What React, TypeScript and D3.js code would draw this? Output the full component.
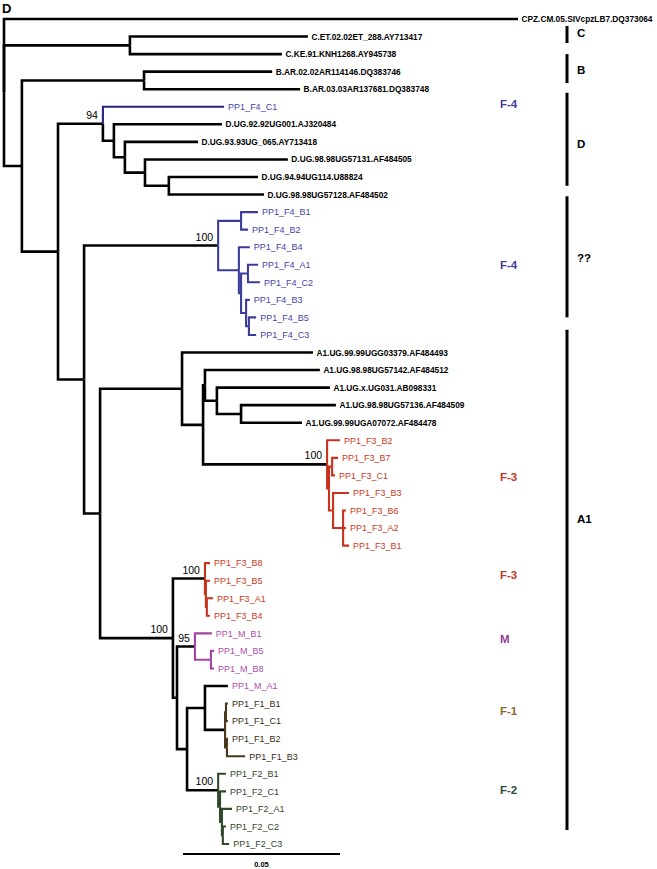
import React from 'react';
import * as d3 from 'd3';

const W = 657;
const H = 869;

// [id, parent, depth (subst./site from root), edge colour group]
const treeRows: [string, string, number, string][] = [
  ['root', '', 0, 'k'],
  ['CPZ.CM.05.SIVcpzLB7.DQ373064', 'root', 0.1637, 'k'],
  ['nC', 'root', 0.0401, 'k'],
  ['C.ET.02.02ET_288.AY713417', 'nC', 0.0968, 'k'],
  ['C.KE.91.KNH1268.AY945738', 'nC', 0.0885, 'k'],
  ['n1', 'root', 0.0057, 'k'],
  ['nB', 'n1', 0.0446, 'k'],
  ['B.AR.02.02AR114146.DQ383746', 'nB', 0.0854, 'k'],
  ['B.AR.03.03AR137681.DQ383748', 'nB', 0.0943, 'k'],
  ['n2', 'n1', 0.0172, 'k'],
  ['nD', 'n2', 0.0315, 'k'],
  ['PP1_F4_C1', 'nD', 0.0701, 'nv'],
  ['nD1', 'nD', 0.035, 'k'],
  ['D.UG.92.92UG001.AJ320484', 'nD1', 0.0694, 'k'],
  ['nD2', 'nD1', 0.0385, 'k'],
  ['D.UG.93.93UG_065.AY713418', 'nD2', 0.0618, 'k'],
  ['nD3', 'nD2', 0.0449, 'k'],
  ['D.UG.98.98UG57131.AF484505', 'nD3', 0.0904, 'k'],
  ['nD4', 'nD3', 0.0525, 'k'],
  ['D.UG.94.94UG114.U88824', 'nD4', 0.0809, 'k'],
  ['D.UG.98.98UG57128.AF484502', 'nD4', 0.0828, 'k'],
  ['n3', 'n2', 0.0255, 'k'],
  ['nF4', 'n3', 0.0682, 'k'],
  ['nF4a', 'nF4', 0.0755, 'b'],
  ['PP1_F4_B1', 'nF4a', 0.0809, 'b'],
  ['PP1_F4_B2', 'nF4a', 0.0777, 'b'],
  ['nF4b', 'nF4', 0.0748, 'b'],
  ['PP1_F4_B4', 'nF4b', 0.0783, 'b'],
  ['nF4c', 'nF4b', 0.0755, 'b'],
  ['nF4d', 'nF4c', 0.0777, 'b'],
  ['PP1_F4_A1', 'nF4d', 0.0809, 'b'],
  ['PP1_F4_C2', 'nF4d', 0.0815, 'b'],
  ['nF4e', 'nF4c', 0.0771, 'b'],
  ['PP1_F4_B3', 'nF4e', 0.0783, 'b'],
  ['nF4f', 'nF4e', 0.078, 'b'],
  ['PP1_F4_B5', 'nF4f', 0.0803, 'b'],
  ['PP1_F4_C3', 'nF4f', 0.0803, 'b'],
  ['nA', 'n3', 0.0306, 'k'],
  ['nA1', 'nA', 0.0567, 'k'],
  ['A1.UG.99.99UGG03379.AF484493', 'nA1', 0.0984, 'k'],
  ['nP', 'nA1', 0.0634, 'k'],
  ['nQ', 'nP', 0.064, 'k'],
  ['A1.UG.98.98UG57142.AF484512', 'nQ', 0.1006, 'k'],
  ['nR', 'nQ', 0.0678, 'k'],
  ['A1.UG.x.UG031.AB098331', 'nR', 0.1038, 'k'],
  ['nS', 'nR', 0.0755, 'k'],
  ['A1.UG.98.98UG57136.AF484509', 'nS', 0.1057, 'k'],
  ['A1.UG.99.99UGA07072.AF484478', 'nS', 0.0949, 'k'],
  ['nF3', 'nP', 0.1029, 'k'],
  ['PP1_F3_B2', 'nF3', 0.107, 'r'],
  ['nF3a', 'nF3', 0.1035, 'r'],
  ['nF3b', 'nF3a', 0.1045, 'r'],
  ['PP1_F3_B7', 'nF3b', 0.1064, 'r'],
  ['PP1_F3_C1', 'nF3b', 0.1054, 'r'],
  ['nF3c', 'nF3a', 0.1048, 'r'],
  ['PP1_F3_B3', 'nF3c', 0.1099, 'r'],
  ['nF3d', 'nF3c', 0.108, 'r'],
  ['PP1_F3_B6', 'nF3d', 0.1089, 'r'],
  ['PP1_F3_A2', 'nF3d', 0.1089, 'r'],
  ['PP1_F3_B1', 'nF3d', 0.1099, 'r'],
  ['nL', 'nA', 0.0538, 'k'],
  ['nG', 'nL', 0.064, 'k'],
  ['PP1_F3_B8', 'nG', 0.0656, 'r'],
  ['nGa', 'nG', 0.0643, 'r'],
  ['PP1_F3_B5', 'nGa', 0.0656, 'r'],
  ['nGb', 'nGa', 0.0646, 'r'],
  ['PP1_F3_A1', 'nGb', 0.0666, 'r'],
  ['PP1_F3_B4', 'nGb', 0.0656, 'r'],
  ['nL2', 'nL', 0.0551, 'k'],
  ['nM', 'nL2', 0.0608, 'k'],
  ['PP1_M_B1', 'nM', 0.0662, 'm'],
  ['nMa', 'nM', 0.0659, 'm'],
  ['PP1_M_B5', 'nMa', 0.0669, 'm'],
  ['PP1_M_B8', 'nMa', 0.0669, 'm'],
  ['nL3', 'nL2', 0.0583, 'k'],
  ['nL4', 'nL3', 0.064, 'k'],
  ['PP1_M_A1', 'nL4', 0.0713, 'k'],
  ['nF1', 'nL4', 0.0704, 'k'],
  ['nF1a', 'nF1', 0.0707, 'f1'],
  ['PP1_F1_B1', 'nF1a', 0.0713, 'f1'],
  ['PP1_F1_C1', 'nF1a', 0.0713, 'f1'],
  ['nF1b', 'nF1', 0.071, 'f1'],
  ['PP1_F1_B2', 'nF1b', 0.0713, 'f1'],
  ['PP1_F1_B3', 'nF1b', 0.0768, 'f1'],
  ['nF2', 'nL3', 0.0682, 'k'],
  ['PP1_F2_B1', 'nF2', 0.0707, 'f2'],
  ['nF2a', 'nF2', 0.0688, 'f2'],
  ['PP1_F2_C1', 'nF2a', 0.0707, 'f2'],
  ['nF2b', 'nF2a', 0.0694, 'f2'],
  ['PP1_F2_A1', 'nF2b', 0.0726, 'f2'],
  ['nF2c', 'nF2b', 0.0697, 'f2'],
  ['PP1_F2_C2', 'nF2c', 0.0707, 'f2'],
  ['PP1_F2_C3', 'nF2c', 0.0717, 'f2'],
];

const edgeColors: Record<string, string> = {
  k: '#000000',
  b: '#3d3c9c',
  nv: '#25237a',
  r: '#c8321d',
  m: '#a343a4',
  f1: '#4a381c',
  f2: '#30492a',
};

// leaf label colour by name prefix
const labelColors: [string, string][] = [
  ['PP1_F4', '#4544a8'],
  ['PP1_F3', '#cc3a22'],
  ['PP1_M', '#ab4dac'],
  ['PP1_F1', '#3a2c16'],
  ['PP1_F2', '#2f4828'],
];

// bootstrap support: [node, value]
const supports: [string, string][] = [
  ['nD', '94'],
  ['nF4', '100'],
  ['nF3', '100'],
  ['nG', '100'],
  ['nL', '100'],
  ['nM', '95'],
  ['nF2', '100'],
];

// clade labels: [text, leaf position, colour]
const cladeLabels: [string, number, string][] = [
  ['F-4', 4.85, '#3f3d99'],
  ['F-4', 14, '#3f3d99'],
  ['F-3', 26.1, '#c0392b'],
  ['F-3', 31.7, '#c0392b'],
  ['M', 35.3, '#8e3f8f'],
  ['F-1', 39.4, '#8a6a2e'],
  ['F-2', 43.9, '#2c4a3c'],
];

// subtype brackets: [label, start leaf pos, end leaf pos, label leaf pos]
const brackets: [string, number, number, number][] = [
  ['C', 0.4, 1.37, 0.8],
  ['B', 2.0, 3.65, 2.9],
  ['D', 4.2, 9.5, 7.1],
  ['??', 10.1, 17.0, 13.6],
  ['A1', 17.7, 46.2, 28.5],
];

const scaleBarValue = 0.05;
const scaleBarLabel = '0.05';

const FONT = "'Liberation Sans', Arial, Helvetica, sans-serif";

export default function App() {
  const root = d3
    .stratify<[string, string, number, string]>()
    .id((d) => d[0])
    .parentId((d) => (d[1] ? d[1] : undefined))(treeRows);

  const x = d3.scaleLinear().domain([0, 0.05]).range([4, 161]);
  const nLeaves = root.leaves().length;
  const y = d3.scaleLinear().domain([0, nLeaves - 1]).range([19, 844]);

  const pos = new Map<string, { x: number; y: number }>();
  root.leaves().forEach((l, i) => {
    pos.set(l.id as string, { x: x(l.data[2]), y: y(i) });
  });
  root.eachAfter((n) => {
    if (n.children) {
      const f = pos.get(n.children[0].id as string)!;
      const l = pos.get(n.children[n.children.length - 1].id as string)!;
      pos.set(n.id as string, { x: x(n.data[2]), y: (f.y + l.y) / 2 });
    }
  });

  const edges = root.descendants().filter((n) => n.parent);
  const blackEdges = edges.filter((e) => e.data[3] === 'k');
  const colEdges = edges.filter((e) => e.data[3] !== 'k');

  const edgePath = (n: any) => {
    const p = pos.get(n.parent.id)!;
    const c = pos.get(n.id)!;
    return `M${p.x},${p.y}V${c.y}H${c.x}`;
  };

  const labelColor = (name: string) => {
    const m = labelColors.find(([pre]) => name.startsWith(pre));
    return m ? m[1] : null;
  };

  const bracketX = 567;
  const cladeX = 500;
  const sbX0 = 183;
  const sbX1 = sbX0 + (x(scaleBarValue) - x(0));
  const sbY = 854;

  return (
    <svg
      width={W}
      height={H}
      style={{ position: 'absolute', left: 0, top: 0, background: '#fff' }}
      fontFamily={FONT}
    >
      <rect width={W} height={H} fill="#fff" />
      <text x={2} y={13} fontSize={13} fontWeight="bold" fill="#000">
        D
      </text>
      <g fill="none" strokeLinejoin="miter">
        {blackEdges.map((e) => (
          <path key={e.id} d={edgePath(e)} stroke={edgeColors.k} strokeWidth={2.6} />
        ))}
        {colEdges.map((e) => (
          <path key={e.id} d={edgePath(e)} stroke={edgeColors[e.data[3]]} strokeWidth={2.1} />
        ))}
      </g>
      <g>
        {root.leaves().map((l) => {
          const p = pos.get(l.id as string)!;
          const c = labelColor(l.id as string);
          return c ? (
            <text key={l.id} x={p.x + 4} y={p.y + 3.3} fontSize={9} fill={c}>
              {l.id}
            </text>
          ) : (
            <text key={l.id} x={p.x + 3.5} y={p.y + 3} fontSize={8.3} fontWeight="bold" fill="#000">
              {l.id}
            </text>
          );
        })}
      </g>
      <g>
        {supports.map(([id, v]) => {
          const p = pos.get(id)!;
          return (
            <text key={id} x={p.x - 5} y={p.y - 5} fontSize={10.5} textAnchor="end" fill="#000">
              {v}
            </text>
          );
        })}
      </g>
      <g>
        {cladeLabels.map(([t, i, c], k) => (
          <text key={k} x={cladeX} y={y(i) + 4} fontSize={11.5} fontWeight="bold" fill={c}>
            {t}
          </text>
        ))}
      </g>
      <g>
        {brackets.map(([t, a, b, m]) => (
          <g key={t}>
            <line x1={bracketX} x2={bracketX} y1={y(a)} y2={y(b)} stroke="#000" strokeWidth={3} />
            <text x={bracketX + 10} y={y(m) + 4} fontSize={11.5} fontWeight="bold" fill="#000">
              {t}
            </text>
          </g>
        ))}
      </g>
      <line x1={sbX0} x2={sbX1} y1={sbY} y2={sbY} stroke="#000" strokeWidth={2} />
      <text x={(sbX0 + sbX1) / 2} y={sbY + 12.5} fontSize={7.5} fontWeight="bold" textAnchor="middle" fill="#000">
        {scaleBarLabel}
      </text>
    </svg>
  );
}
